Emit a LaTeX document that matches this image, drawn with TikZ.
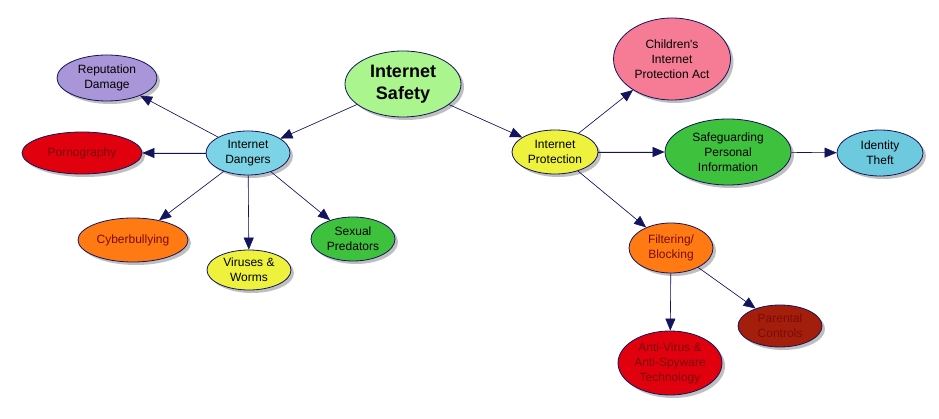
\documentclass[tikz,border=0pt]{standalone}
\usepackage{fontspec}
\setmainfont{Liberation Sans}
\usetikzlibrary{arrows.meta,shapes.geometric,shadows}

\definecolor{navy}{HTML}{14145E}
\definecolor{darkred}{HTML}{7A0A0A}
\definecolor{safetygreen}{HTML}{AAF58E}
\definecolor{dangercyan}{HTML}{7DD3E6}
\definecolor{lavender}{HTML}{A896D8}
\definecolor{hotred}{HTML}{E0000E}
\definecolor{orange}{HTML}{FF7A12}
\definecolor{lemon}{HTML}{EEF23C}
\definecolor{grassgreen}{HTML}{3EC23E}
\definecolor{pink}{HTML}{F67C96}
\definecolor{skyblue}{HTML}{6DC9DD}
\definecolor{brick}{HTML}{A41E0C}

\begin{document}
\begin{tikzpicture}[x=1pt,y=-1pt,
topic/.style={ellipse,draw=navy,line width=0.8pt,inner sep=0pt,align=center,
  font=\fontsize{12}{15}\selectfont,
  drop shadow={shadow xshift=3pt,shadow yshift=-3pt,fill=black!50,opacity=0.5}},
warm/.style={topic,text=darkred},
link/.style={-{Triangle[length=12pt,width=10pt]},draw=navy,fill=navy,line width=0.6pt}]

\fill[white] (0,0) rectangle (939,419);
\useasboundingbox (0,0) rectangle (939,419);

\node[topic,fill=safetygreen,minimum width=116,minimum height=66,
  font=\bfseries\fontsize{18}{22}\selectfont] (safety) at (403,84) {Internet\\Safety};

\node[topic,fill=dangercyan,minimum width=84,minimum height=44] (dangers) at (248,153) {Internet\\Dangers};

\node[topic,fill=lavender,minimum width=100,minimum height=46] (reputation) at (107,78) {Reputation\\Damage};

\node[warm,fill=hotred,minimum width=120,minimum height=42] (porn) at (82,153) {Pornography};

\node[warm,fill=orange,minimum width=110,minimum height=44] (cyber) at (133,240) {Cyberbullying};

\node[topic,fill=lemon,minimum width=84,minimum height=40] (viruses) at (249,270) {Viruses \&\\Worms};

\node[topic,fill=grassgreen,minimum width=84,minimum height=44] (predators) at (353,239) {Sexual\\Predators};

\node[topic,fill=lemon,minimum width=86,minimum height=44] (protection) at (555,152) {Internet\\Protection};

\node[topic,fill=pink,minimum width=117,minimum height=82] (cipa) at (672,59) {Children\textquotesingle s\\Internet\\Protection Act};

\node[topic,fill=grassgreen,minimum width=126,minimum height=66] (personal) at (728,152) {Safeguarding\\Personal\\Information};

\node[topic,fill=skyblue,minimum width=86,minimum height=46] (identity) at (880,153) {Identity\\Theft};

\node[warm,fill=orange,minimum width=84,minimum height=50] (filtering) at (671,248) {Filtering/\\Blocking};

\node[warm,fill=brick,minimum width=84,minimum height=42] (parental) at (780,326) {Parental\\Controls};

\node[warm,fill=hotred,minimum width=104,minimum height=64] (antivirus) at (670,363) {Anti-Virus \&\\Anti-Spyware\\Technology};

\draw[link] (safety) -- (dangers);
\draw[link] (safety) -- (protection);

\draw[link] (dangers) -- (reputation);
\draw[link] (dangers) -- (porn);
\draw[link] (dangers) -- (cyber);
\draw[link] (dangers) -- (viruses);
\draw[link] (dangers) -- (predators);

\draw[link] (protection) -- (cipa);
\draw[link] (protection) -- (personal);
\draw[link] (protection) -- (filtering);
\draw[link] (personal) -- (identity);

\draw[link] (filtering) -- (antivirus);
\draw[link] (filtering) -- (parental);

\end{tikzpicture}
\end{document}
